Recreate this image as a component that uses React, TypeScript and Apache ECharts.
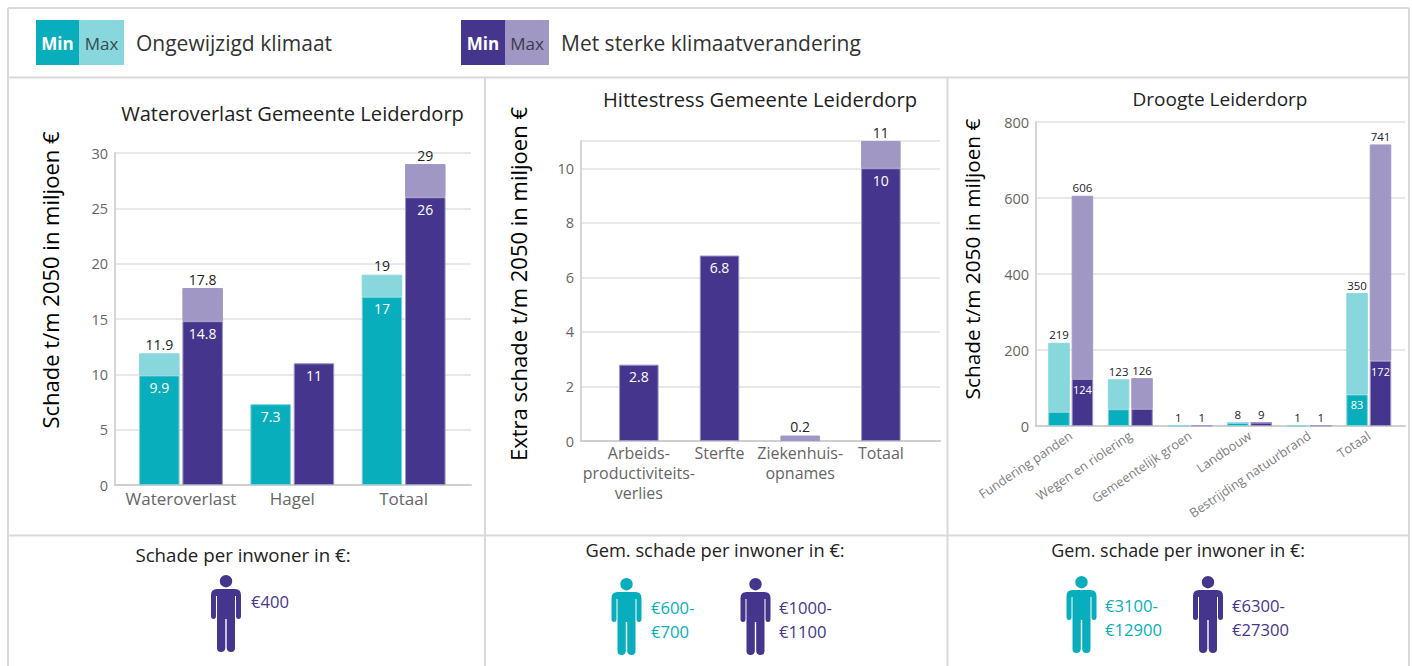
import React, { useEffect, useRef } from "react";
import * as echarts from "echarts";

const TEAL = "#08AEBC";
const TEAL_LIGHT = "#87D7DC";
const PURPLE = "#46358C";
const PURPLE_LIGHT = "#A197C5";
const FONT = "'Open Sans', sans-serif";

const waterCategories = ["Wateroverlast", "Hagel", "Totaal"];
const waterKlimaatMin = [9.9, 7.3, 17];
const waterKlimaatMax = [11.9, null, 19];
const waterSterkMin = [14.8, 11, 26];
const waterSterkMax = [17.8, null, 29];

const hitteCategories = ["Arbeids-\nproductiviteits-\nverlies", "Sterfte", "Ziekenhuis-\nopnames", "Totaal"];
const hitteSterkMin = [2.8, 6.8, null, 10];
const hitteSterkMax = [null, null, 0.2, 11];

const droogteCategories = ["Fundering panden", "Wegen en riolering", "Gemeentelijk groen", "Landbouw", "Bestrijding natuurbrand", "Totaal"];
const droogteKlimaatMin = [37, 44, null, 8, null, 83];
const droogteKlimaatMax = [219, 123, 1, 8, 1, 350];
const droogteSterkMin = [124, 45, null, 9, null, 172];
const droogteSterkMax = [606, 126, 1, 9, 1, 741];

const PERSON =
  "M15 0A6.2 6.2 0 1 1 15 12.4A6.2 6.2 0 1 1 15 0Z" +
  "M6 14H24Q30 14 30 20V41Q30 44 27.5 44Q25 44 25 41V21H24V73Q24 77 20 77Q16 77 15.7 73V44H14.3V73Q14 77 10 77Q6 77 6 73V21H5V41Q5 44 2.5 44Q0 44 0 41V20Q0 14 6 14Z";
echarts.graphic.registerShape("person", echarts.graphic.extendPath(PERSON, {}) as any);

type Stack = { id: string; min: (number | null)[]; max: (number | null)[]; dark: string; light: string; edge: string };
type Panel = {
  categories: string[];
  stacks: Stack[];
  outer: { left: number; right: number };
  inner: { left: number; right: number };
  top: number;
  bottom: number;
  yMax: number;
  yInterval: number;
  barWidth: number;
  barGap: string;
  topLabelSize: number;
  minLabelSize: number;
  catLabel: any;
  minLabelFloor: number;
  hideMaxLabel?: boolean;
};

const TEAL_EDGE = "#7AD3DA";
const PURPLE_EDGE = "#9C92C4";

const panels: Panel[] = [
  {
    categories: waterCategories,
    stacks: [
      { id: "w1", min: waterKlimaatMin, max: waterKlimaatMax, dark: TEAL, light: TEAL_LIGHT, edge: TEAL_EDGE },
      { id: "w2", min: waterSterkMin, max: waterSterkMax, dark: PURPLE, light: PURPLE_LIGHT, edge: PURPLE_EDGE },
    ],
    outer: { left: 115, right: 471 },
    inner: { left: 125.3, right: 459.3 },
    top: 153,
    bottom: 485,
    yMax: 30,
    yInterval: 5,
    barWidth: 40.5,
    barGap: "7%",
    topLabelSize: 14,
    minLabelSize: 14,
    catLabel: { fontSize: 17, margin: 5 },
    minLabelFloor: 0,
  },
  {
    categories: hitteCategories,
    stacks: [{ id: "h", min: hitteSterkMin, max: hitteSterkMax, dark: PURPLE, light: PURPLE_LIGHT, edge: PURPLE_EDGE }],
    outer: { left: 581, right: 940 },
    inner: { left: 598.5, right: 921.2 },
    top: 141,
    bottom: 441,
    yMax: 11,
    yInterval: 2,
    barWidth: 39.5,
    barGap: "7%",
    topLabelSize: 14,
    minLabelSize: 14,
    catLabel: { fontSize: 16, margin: 2, lineHeight: 20 },
    minLabelFloor: 0,
    hideMaxLabel: true,
  },
  {
    categories: droogteCategories,
    stacks: [
      { id: "d1", min: droogteKlimaatMin, max: droogteKlimaatMax, dark: TEAL, light: TEAL_LIGHT, edge: TEAL_EDGE },
      { id: "d2", min: droogteSterkMin, max: droogteSterkMax, dark: PURPLE, light: PURPLE_LIGHT, edge: PURPLE_EDGE },
    ],
    outer: { left: 1036, right: 1405 },
    inner: { left: 1040.9, right: 1398.6 },
    top: 122,
    bottom: 426,
    yMax: 800,
    yInterval: 200,
    barWidth: 21.5,
    barGap: "9%",
    topLabelSize: 11.5,
    minLabelSize: 11,
    catLabel: { fontSize: 12.8, margin: 8, rotate: 34, color: "#808080" },
    minLabelFloor: 60,
  },
];

const panelLines: number[][] = [
  [8, 8, 1409, 8],
  [8, 8, 8, 666],
  [1409, 8, 1409, 666],
  [8, 77.5, 1409, 77.5],
  [8, 535.5, 1409, 535.5],
  [485, 77.5, 485, 666],
  [947.5, 77.5, 947.5, 666],
];

function buildOption() {
  const grid: any[] = [];
  const xAxis: any[] = [];
  const yAxis: any[] = [];
  const series: any[] = [];
  panels.forEach((p, k) => {
    const a = k * 2;
    const b = k * 2 + 1;
    grid.push({ left: p.outer.left, top: p.top, width: p.outer.right - p.outer.left, height: p.bottom - p.top });
    grid.push({ left: p.inner.left, top: p.top, width: p.inner.right - p.inner.left, height: p.bottom - p.top });
    xAxis.push({
      gridIndex: a, type: "value", min: 0, max: 1,
      axisLine: { show: true, onZero: false, lineStyle: { color: "#CFCFCF", width: 2 } },
      axisTick: { show: false }, axisLabel: { show: false }, splitLine: { show: false },
    });
    xAxis.push({
      gridIndex: b, type: "category", data: p.categories,
      axisLine: { show: false }, axisTick: { show: false },
      axisLabel: { color: "#666666", fontFamily: FONT, interval: 0, ...p.catLabel },
    });
    yAxis.push({
      gridIndex: a, type: "value", min: 0, max: p.yMax, interval: p.yInterval,
      axisLine: { show: true, lineStyle: { color: "#D5D5D5", width: 2 } },
      axisTick: { show: false },
      axisLabel: { color: "#666666", fontFamily: FONT, fontSize: 14.5, margin: 7, showMaxLabel: !p.hideMaxLabel },
      splitLine: { show: true, lineStyle: { color: "#E8E8E8", width: 2 } },
    });
    yAxis.push({ gridIndex: b, type: "value", min: 0, max: p.yMax, show: false, splitLine: { show: false } });
    p.stacks.forEach((s) => {
      series.push({
        type: "bar", name: s.id + " min", stack: s.id, xAxisIndex: b, yAxisIndex: b,
        barWidth: p.barWidth, barGap: p.barGap,
        itemStyle: { color: s.dark, borderColor: s.edge, borderWidth: 1 },
        data: s.min.map((v) => ({
          value: v,
          label: { show: v != null && v > p.minLabelFloor },
        })),
        label: {
          position: "insideTop", distance: 5, color: "#FFFFFF", fontFamily: FONT, fontSize: p.minLabelSize,
        },
      });
      series.push({
        type: "bar", name: s.id + " max", stack: s.id, xAxisIndex: b, yAxisIndex: b,
        barWidth: p.barWidth, barGap: p.barGap,
        itemStyle: { color: s.light, borderColor: s.light, borderWidth: 1 },
        data: s.max.map((v, i) => (v == null ? null : v - (s.min[i] ?? 0))),
        label: {
          show: true, position: "top", distance: 2, color: "#222222", fontFamily: FONT, fontSize: p.topLabelSize,
          formatter: (o: any) => String(s.max[o.dataIndex]),
        },
      });
    });
  });

  const text = (x: number, y: number, t: string, size: number, fill: string, extra: any = {}) => ({
    type: "text", x, y, z: 10, ...extra,
    style: { text: t, fontSize: size, fill, fontFamily: FONT, verticalAlign: "middle", align: "left", ...(extra.style || {}) },
  });
  const rotated = (x: number, y: number, t: string, size: number) => ({
    type: "text", x, y, rotation: Math.PI / 2, z: 10,
    style: { text: t, fontSize: size, fill: "#000000", fontFamily: FONT, align: "center", verticalAlign: "middle" },
  });
  const person = (x: number, y: number, fill: string) => ({
    type: "person", x, y, z: 10, shape: {}, scaleX: 1, scaleY: 1, style: { fill },
  });
  const box = (x: number, w: number, fill: string, t: string, color: string, weight: string) => [
    { type: "rect", shape: { x, y: 20, width: w, height: 45 }, style: { fill }, z: 9 },
    text(x + w / 2, 43.5, t, 17, color, { style: { align: "center", fontWeight: weight } }),
  ];

  const graphic: any[] = [
    ...panelLines.map((l) => ({
      type: "line", z: 1,
      shape: { x1: l[0], y1: l[1], x2: l[2], y2: l[3] },
      style: { stroke: "#D9D9D9", lineWidth: 2 },
    })),
    ...box(36, 43, TEAL, "Min", "#FFFFFF", "bold"),
    ...box(79, 45, TEAL_LIGHT, "Max", "#3A4A50", "normal"),
    ...box(461, 44, PURPLE, "Min", "#FFFFFF", "bold"),
    ...box(505, 44, PURPLE_LIGHT, "Max", "#3A3A4A", "normal"),
    text(136, 43, "Ongewijzigd klimaat", 21, "#333333"),
    text(561, 43, "Met sterke klimaatverandering", 21, "#333333"),
    rotated(50, 280, "Schade t/m 2050 in miljoen €", 22),
    rotated(518, 284, "Extra schade t/m 2050 in miljoen €", 22),
    rotated(972, 259, "Schade t/m 2050 in miljoen €", 20.8),
    text(243, 554, "Schade per inwoner in €:", 18.7, "#222222", { style: { align: "center" } }),
    text(715, 549, "Gem. schade per inwoner in €:", 18.3, "#222222", { style: { align: "center" } }),
    text(1178, 550, "Gem. schade per inwoner in €:", 17.9, "#222222", { style: { align: "center" } }),
    person(211, 575, PURPLE),
    text(251, 601, "€400", 16.6, PURPLE),
    person(611.5, 578, TEAL),
    text(651, 607, "€600-", 16.6, TEAL),
    text(651, 631, "€700", 16.6, TEAL),
    person(740.5, 578, PURPLE),
    text(779, 607, "€1000-", 16.6, PURPLE),
    text(779, 631, "€1100", 16.6, PURPLE),
    person(1066.5, 576, TEAL),
    text(1105, 605, "€3100-", 16.6, TEAL),
    text(1105, 629, "€12900", 16.6, TEAL),
    person(1193, 576, PURPLE),
    text(1232, 605, "€6300-", 16.6, PURPLE),
    text(1232, 629, "€27300", 16.6, PURPLE),
  ];

  const title = [
    { text: "Wateroverlast Gemeente Leiderdorp", left: 292.5, top: 113, size: 20.1 },
    { text: "Hittestress Gemeente Leiderdorp", left: 760, top: 99, size: 20.2 },
    { text: "Droogte Leiderdorp", left: 1220, top: 99, size: 19 },
  ].map((t) => ({
    text: t.text, left: t.left, top: t.top - 12, textAlign: "center", padding: 0,
    textStyle: { fontFamily: FONT, fontSize: t.size, fontWeight: "normal", color: "#222222", lineHeight: 24 },
  }));

  return { animation: false, backgroundColor: "#FFFFFF", title, grid, xAxis, yAxis, series, graphic };
}

export default function App() {
  const ref = useRef<HTMLDivElement>(null);
  useEffect(() => {
    const chart = echarts.init(ref.current!, undefined, { renderer: "svg" });
    chart.setOption(buildOption() as any);
    return () => chart.dispose();
  }, []);
  return <div ref={ref} style={{ position: "fixed", left: 0, top: 0, width: 1412, height: 666 }} />;
}
